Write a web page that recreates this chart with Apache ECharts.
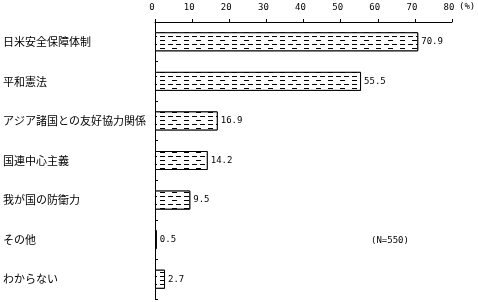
<!DOCTYPE html>
<html><head><meta charset="utf-8">
<script src="https://cdn.jsdelivr.net/npm/echarts@6/dist/echarts.min.js"></script>
<style>html,body{margin:0;padding:0;background:#fff}#c{width:478px;height:302px}</style>
</head><body><div id="c"></div>
<script>
const categories = ['日米安全保障体制','平和憲法','アジア諸国との友好協力関係','国連中心主義','我が国の防衛力','その他','わからない'];
const values = [70.9, 55.5, 16.9, 14.2, 9.5, 0.5, 2.7];
const axisMax = 80;
const axisInterval = 10;
const unitLabel = '(%)';
const noteText = '(N=550)';

const chart = echarts.init(document.getElementById('c'));
chart.setOption({
  animation: false,
  backgroundColor: '#fff',
  grid: {left: 155, right: 26, top: 22, bottom: 3},
  xAxis: {
    type: 'value', position: 'top', min: 0, max: axisMax, interval: axisInterval,
    axisLine: {show: true, lineStyle: {color: '#000', width: 1}},
    axisTick: {show: true, length: 3, lineStyle: {color: '#000'}},
    splitLine: {show: false},
    axisLabel: {color: '#000', fontFamily: 'DejaVu Sans Mono', fontSize: 9, margin: 10, padding: [0, 6, 0, 0]}
  },
  yAxis: {
    type: 'category', data: categories, inverse: true,
    axisLine: {show: true, lineStyle: {color: '#000', width: 1}},
    axisTick: {show: true, inside: true, length: 3, lineStyle: {color: '#000'}},
    axisLabel: {color: '#000', fontFamily: 'Noto Sans CJK JP', fontSize: 11, align: 'left', margin: 152}
  },
  series: [{
    type: 'bar', data: values, barWidth: '48%',
    itemStyle: {
      color: '#fff', borderColor: '#000', borderWidth: 1,
      decal: {symbol: 'rect', symbolSize: 1, color: '#000', backgroundColor: '#fff',
              dashArrayX: [[5, 3], [0, 4, 5, 3]], dashArrayY: [1, 3], rotation: 0}
    },
    label: {show: true, position: 'right', distance: 3, color: '#000', fontFamily: 'DejaVu Sans Mono', fontSize: 9,
            formatter: p => p.value.toFixed(1)}
  }],
  graphic: [
    {type: 'text', left: 459, top: 2, style: {text: unitLabel, fill: '#000', font: '9px "DejaVu Sans Mono"'}},
    {type: 'text', left: 371, top: 236, style: {text: noteText, fill: '#000', font: '9px "DejaVu Sans Mono"'}}
  ]
});
</script></body></html>
